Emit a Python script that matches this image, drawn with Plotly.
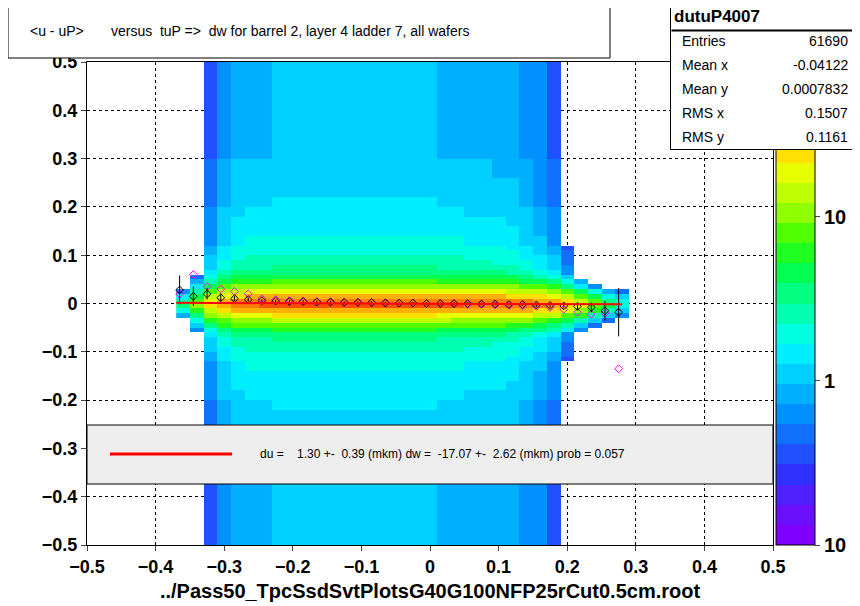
import plotly.graph_objects as go
import numpy as np

# x bin centres (width 0.02) and y bin centres (width 0.01)
x_centers = [round(-0.36 + 0.02*i, 2) for i in range(33)]
y_centers = [round(-0.495 + 0.01*i, 3) for i in range(100)]
# core (narrow peak) strength per x column
core_x = [3, 8, 18, 26, 32, 36, 38, 40, 41, 41, 41, 41, 40, 40, 40, 40, 40, 39, 39, 39, 38, 38, 37, 37, 36, 34, 32, 28, 23, 16, 9, 4, 2]
core_y = ([0]*44 + [0.02, 0.05, 0.12, 0.3, 0.6, 1.0, 0.9, 0.5, 0.22, 0.08, 0.03, 0.01] + [0]*44)
# broad tail strength per x column and per y row
tail_x = [0, 0.2, 0.8, 1.4, 1.8, 1.9, 1.9, 2.0, 2.0, 2.0, 2.0, 2.0, 2.0, 2.0, 2.0, 2.0, 2.0, 2.0, 2.0, 1.9, 1.9, 1.8, 1.8, 1.7, 1.6, 1.4, 1.1, 0.8, 0.4, 0.1, 0, 0, 0]
tail_y = [0.5, 0.5, 0.5, 0.5, 0.5, 0.5, 0.5, 0.5, 0.5, 0.5,
          0.5, 0.5, 0.5, 0.5, 0.5, 0.5, 0.5, 0.5, 0.5, 0.5,
          0.55, 0.55, 0.55, 0.55, 0.6, 0.6, 0.6, 0.6, 0.65, 0.65,
          0.7, 0.7, 0.75, 0.75, 0.8, 0.8, 0.9, 0.9, 1.0, 1.1,
          1.2, 1.3, 1.5, 1.8, 2.3, 3.0, 4.0, 5.0, 6.0, 6.5,
          6.5, 6.0, 5.0, 4.0, 3.0, 2.3, 1.8, 1.5, 1.3, 1.2,
          1.1, 1.0, 0.9, 0.9, 0.8, 0.8, 0.75, 0.75, 0.7, 0.7,
          0.65, 0.65, 0.6, 0.6, 0.6, 0.6, 0.55, 0.55, 0.55, 0.55,
          0.5, 0.5, 0.5, 0.5, 0.5, 0.5, 0.5, 0.5, 0.5, 0.5,
          0.5, 0.5, 0.5, 0.5, 0.5, 0.5, 0.5, 0.5, 0.5, 0.5]

# profile points
prof_x = [round(-0.365 + 0.02*i, 3) for i in range(33)]
prof_black = [0.028, 0.015, 0.02, 0.012, 0.01, 0.008, 0.006, 0.005, 0.004, 0.004, 0.003, 0.003, 0.002, 0.002, 0.002, 0.001, 0.001, 0.001, 0.0, 0.0, 0.0, 0.0, -0.001, -0.001, -0.002, -0.002, -0.003, -0.004, -0.005, -0.006, -0.008, -0.015, -0.018]
prof_black_err = [0.03, 0.02, 0.012, 0.008, 0.005, 0.004, 0.003, 0.003, 0.003, 0.003, 0.003, 0.003, 0.003, 0.003, 0.003, 0.003, 0.003, 0.003, 0.003, 0.003, 0.003, 0.003, 0.003, 0.003, 0.003, 0.003, 0.004, 0.005, 0.006, 0.008, 0.01, 0.02, 0.05]
prof_mag = [0.02, 0.06, 0.035, 0.03, 0.025, 0.02, 0.01, 0.008, 0.006, 0.005, 0.004, 0.004, 0.003, 0.003, 0.002, 0.002, 0.001, 0.001, 0.0, 0.0, -0.001, -0.002, -0.002, -0.003, -0.004, -0.005, -0.006, -0.008, -0.012, -0.018, -0.022, -0.02, -0.135]

stat_labels = ["Entries", "Mean x", "Mean y", "RMS x", "RMS y"]
stat_values = ["61690", "-0.04122", "0.0007832", "0.1507", "0.1161"]

cx = np.array(core_x, float); cy = np.array(core_y, float)
tx = np.array(tail_x, float); ty = np.array(tail_y, float)
z = np.outer(cy, cx) + np.outer(ty, tx)
zl = np.where(z >= 0.4, np.log10(np.maximum(z, 1e-9)), np.nan)

pal = ["#7f00ff", "#6a10ff", "#5020ff", "#3030ff", "#2050ff", "#1070ff", "#0090ff", "#00b0ff",
       "#00d0ff", "#00eeff", "#00ffe0", "#00ffb0", "#00ff80", "#00ff50", "#20ff20", "#50ff00",
       "#90ff00", "#c0ff00", "#e8ff00", "#ffe000", "#ffb000", "#ff8000", "#ff5000", "#ff0000"]
n = len(pal)
cs = []
for i, c in enumerate(pal):
    cs.append([i/n, c]); cs.append([(i+1)/n, c])

F = "Liberation Sans"
# page has an 8px body margin: figure drawn from (8,8)
W, H = 852, 598
L, R, T, B = 79, 87, 54, 61
PW, PH = W - L - R, H - T - B
def px(xp): return (xp - 8 - L) / PW
def py(yp): return (H - B - (yp - 8)) / PH

fig = go.Figure()
fig.add_trace(go.Heatmap(x=x_centers, y=y_centers, z=zl, colorscale=cs, zmin=-1, zmax=1.945,
    hoverinfo="skip",
    colorbar=dict(x=px(776), xanchor="left", xpad=0, ypad=0, y=0, yanchor="bottom",
                  len=1, lenmode="fraction",
                  thickness=39, tickvals=[-1, 0, 1], ticktext=["10", "1", "10"],
                  tickfont=dict(family=F, size=20, color="black", weight="bold"),
                  outlinewidth=1, outlinecolor="black", ticks="outside")))
fig.add_trace(go.Scatter(x=prof_x, y=prof_mag, mode="markers",
    marker=dict(symbol="diamond-open", color="magenta", size=6), hoverinfo="skip"))
fig.add_trace(go.Scatter(x=prof_x, y=prof_black, mode="markers",
    error_y=dict(array=prof_black_err, color="black", thickness=1, width=0),
    marker=dict(symbol="diamond-open", color="black", size=6), hoverinfo="skip"))
fig.add_trace(go.Scatter(x=[-0.37, 0.28], y=[0.0013, -0.0017], mode="lines",
    line=dict(color="red", width=2), hoverinfo="skip"))

ax = dict(showline=True, linecolor="black", mirror=True, ticks="outside", zeroline=False,
          showgrid=True, gridcolor="black", griddash="dot", gridwidth=1,
          tickfont=dict(family=F, size=18, color="black", weight="bold"), range=[-0.5, 0.5])
fig.update_xaxes(**ax, dtick=0.1, tickformat=".1~f",
    title=dict(text="../Pass50_TpcSsdSvtPlotsG40G100NFP25rCut0.5cm.root",
               font=dict(family=F, size=20, color="black", weight="bold"), standoff=8))
fig.update_yaxes(**ax, dtick=0.1, tickformat=".1~f")

shapes = [
    dict(type="rect", xref="paper", yref="paper", x0=0, x1=1, y0=py(484), y1=py(425),
         fillcolor="#eeeeee", line=dict(color="black", width=1)),
    dict(type="line", xref="paper", yref="paper", x0=px(110), x1=px(232), y0=py(454), y1=py(454),
         line=dict(color="red", width=3)),
    dict(type="rect", xref="paper", yref="paper", x0=px(8), x1=px(610), y0=py(58), y1=py(5),
         fillcolor="white", line=dict(color="black", width=1)),
]
ann = [
    # stats box drawn as an annotation so it covers the top of the colour bar
    dict(xref="paper", yref="paper", x=px(670), y=py(3), xanchor="left", yanchor="top",
         showarrow=False, text="", width=183, height=145, bgcolor="white",
         bordercolor="black", borderwidth=1, borderpad=0),
    dict(xref="paper", yref="paper", x=px(671), y=py(30), xanchor="left", yanchor="middle",
         showarrow=False, text="", width=183, height=1, bgcolor="black", borderpad=0),
    dict(xref="paper", yref="paper", x=px(258), y=py(454), xanchor="left", yanchor="middle",
         showarrow=False,
         text="du =    1.30 +-  0.39 (mkm) dw =  -17.07 +-  2.62 (mkm) prob = 0.057",
         font=dict(family=F, size=12, color="black")),
    dict(xref="paper", yref="paper", x=px(28), y=py(31), xanchor="left", yanchor="middle",
         showarrow=False,
         text="&lt;u - uP&gt;       versus  tuP =&gt;  dw for barrel 2, layer 4 ladder 7, all wafers",
         font=dict(family=F, size=14, color="black")),
    dict(xref="paper", yref="paper", x=px(762), y=py(17), yanchor="middle", showarrow=False,
         text="dutuP4007", font=dict(family=F, size=17, color="black", weight="bold")),
]
for i, (lab, val) in enumerate(zip(stat_labels, stat_values)):
    yy = py(41 + 24*i)
    ann.append(dict(xref="paper", yref="paper", x=px(680), y=yy, xanchor="left", yanchor="middle",
                    showarrow=False, text=lab, font=dict(family=F, size=14, color="black")))
    ann.append(dict(xref="paper", yref="paper", x=px(850), y=yy, xanchor="right", yanchor="middle",
                    showarrow=False, text=val, font=dict(family=F, size=14, color="black")))

fig.update_layout(
    width=W, height=H, plot_bgcolor="white", paper_bgcolor="white", showlegend=False,
    margin=dict(l=L, r=R, t=T, b=B, autoexpand=False), shapes=shapes, annotations=ann,
)
fig.write_html("out.html")
